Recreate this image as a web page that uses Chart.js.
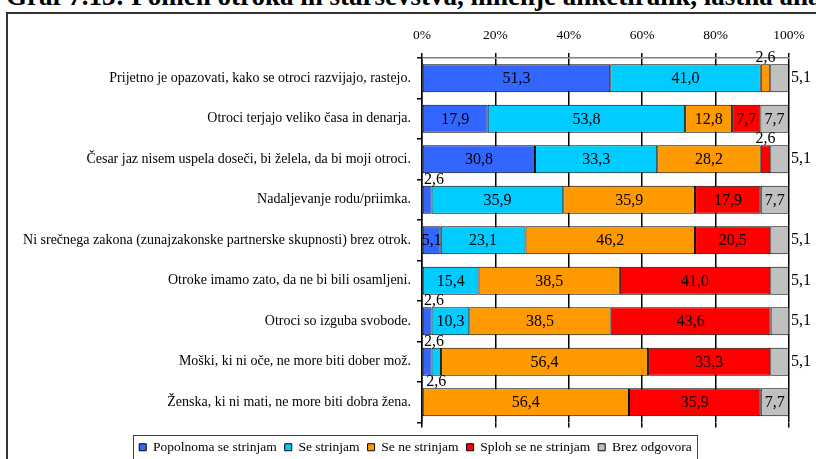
<!DOCTYPE html>
<html>
<head>
<meta charset="utf-8">
<script src="https://cdn.jsdelivr.net/npm/chart.js@4.4.1/dist/chart.umd.min.js"></script>
<style>
  html, body { margin: 0; padding: 0; background: #fff; }
  body { width: 816px; height: 459px; overflow: hidden; position: relative; }
  #title { position: absolute; left: 6px; top: -17px; white-space: nowrap;
           font: bold 27px 'Liberation Serif', 'Times New Roman', serif; color: #000; line-height: 27px; }
  #frame { position: absolute; left: 6px; top: 12px; width: 900px; height: 600px;
           border-left: 2px solid #333; border-top: 2px solid #333; }
  #wrap { position: absolute; left: 0; top: 0; width: 816px; height: 470px; }
</style>
</head>
<body>
<div id="title">Graf 7.13: Pomen otroka in starševstva, mnenje anketirank, lastna analiza</div>
<div id="frame"></div>
<div id="wrap"><canvas id="c" width="816" height="470"></canvas></div>
<script>
// ---- data ----
const categories = [
  "Prijetno je opazovati, kako se otroci razvijajo, rastejo.",
  "Otroci terjajo veliko časa in denarja.",
  "Česar jaz nisem uspela doseči, bi želela, da bi moji otroci.",
  "Nadaljevanje rodu/priimka.",
  "Ni srečnega zakona (zunajzakonske partnerske skupnosti) brez otrok.",
  "Otroke imamo zato, da ne bi bili osamljeni.",
  "Otroci so izguba svobode.",
  "Moški, ki ni oče, ne more biti dober mož.",
  "Ženska, ki ni mati, ne more biti dobra žena."
];
const seriesNames = ["Popolnoma se strinjam", "Se strinjam", "Se ne strinjam", "Sploh se ne strinjam", "Brez odgovora"];
const popolnoma = [51.3, 17.9, 30.8, 2.6, 5.1, 0, 2.6, 2.6, 0];
const seStrinjam = [41.0, 53.8, 33.3, 35.9, 23.1, 15.4, 10.3, 2.6, 0];
const seNeStrinjam = [2.6, 12.8, 28.2, 35.9, 46.2, 38.5, 38.5, 56.4, 56.4];
const splohNe = [0, 7.7, 2.6, 17.9, 20.5, 41.0, 43.6, 33.3, 35.9];
const brezOdgovora = [5.1, 7.7, 5.1, 7.7, 5.1, 5.1, 5.1, 5.1, 7.7];
const xTicks = [0, 20, 40, 60, 80, 100];
const seriesValues = [popolnoma, seStrinjam, seNeStrinjam, splohNe, brezOdgovora];
const seriesColors = ["#3366FF", "#00CCFF", "#FF9900", "#FF0000", "#C0C0C0"];

const SERIF = "'Liberation Serif', 'Times New Roman', serif";
Chart.defaults.font.family = SERIF;
Chart.defaults.color = '#000';

const fmt = v => v.toFixed(1).replace('.', ',');

const valueLabels = {
  id: 'valueLabels',
  afterDatasetsDraw(chart) {
    const ctx = chart.ctx, area = chart.chartArea;
    ctx.save();
    ctx.font = "16px " + SERIF;
    ctx.fillStyle = '#000';
    ctx.textBaseline = 'middle';
    const last = chart.data.datasets.length - 1;
    chart.data.labels.forEach((_, j) => {
      let nextAbove = true;
      chart.data.datasets.forEach((ds, i) => {
        const v = ds.data[j];
        if (v == null || v === 0) return;
        const el = chart.getDatasetMeta(i).data[j];
        const txt = fmt(v);
        const w = ctx.measureText(txt).width;
        const top = el.y - el.height / 2, bottom = el.y + el.height / 2;
        const cx = (el.x + el.base) / 2;
        if (i === last && v < 6) {
          ctx.textAlign = 'left';
          ctx.fillText(txt, area.right + 2, el.y);
        } else if (v < 4) {
          ctx.textAlign = 'center';
          const x = Math.max(cx, area.left + w / 2 + 2);
          if (nextAbove) ctx.fillText(txt, x, top - 6);
          else ctx.fillText(txt, x, bottom + 6);
          nextAbove = !nextAbove;
        } else {
          ctx.textAlign = 'center';
          ctx.fillText(txt, cx, el.y + 1);
        }
      });
    });
    ctx.restore();
  }
};

const legendBorder = {
  id: 'legendBorder',
  afterDraw(chart) {
    const hb = chart.legend && chart.legend.legendHitBoxes;
    if (!hb || !hb.length) return;
    const left = Math.min(...hb.map(h => h.left)) - 6;
    const right = Math.max(...hb.map(h => h.left + h.width)) + 5;
    const top = hb[0].top - 6;
    const ctx = chart.ctx;
    ctx.save();
    ctx.strokeStyle = '#404040';
    ctx.lineWidth = 1;
    ctx.strokeRect(Math.round(left) + 0.5, Math.round(top) + 0.5, Math.round(right - left), 60);
    ctx.restore();
  }
};

new Chart(document.getElementById('c'), {
  type: 'bar',
  data: {
    labels: categories,
    datasets: seriesNames.map((name, i) => ({
      label: name,
      data: seriesValues[i].map(v => v === 0 ? null : v),
      backgroundColor: seriesColors[i],
      borderColor: '#000',
      borderWidth: 1,
      borderSkipped: false,
      barPercentage: 0.69,
      categoryPercentage: 1.0,
      xAxisID: 'x',
      yAxisID: 'y'
    }))
  },
  options: {
    indexAxis: 'y',
    responsive: false,
    animation: false,
    layout: { padding: { left: 15, right: 0, top: 0, bottom: 6 } },
    scales: {
      x: {
        position: 'top',
        stacked: true,
        min: 0, max: 100,
        afterBuildTicks: s => { s.ticks = xTicks.map(v => ({ value: v })); },
        ticks: { callback: v => v + '%', font: { family: SERIF, size: 13.5 }, padding: 9, maxRotation: 0 },
        grid: { display: true, drawOnChartArea: true, drawTicks: true, color: '#000', lineWidth: 1.5, tickLength: 5, tickColor: '#000', tickWidth: 1.5 },
        border: { display: true, color: '#808080', width: 1.5 },
        afterFit: s => { s.height = 58; }
      },
      x2: {
        position: 'bottom',
        min: 0, max: 100,
        afterBuildTicks: s => { s.ticks = xTicks.map(v => ({ value: v })); },
        ticks: { display: false },
        grid: { display: true, drawOnChartArea: false, drawTicks: true, color: '#000', lineWidth: 1.5, tickLength: 5 },
        border: { display: false },
        afterFit: s => { s.height = 10; }
      },
      y: {
        stacked: true,
        ticks: { font: { family: SERIF, size: 14 }, padding: 6 },
        grid: { display: true, drawOnChartArea: false, drawTicks: true, color: '#000', lineWidth: 1.5, tickLength: 5, offset: true },
        border: { display: true, color: '#000', width: 1.5 },
        afterFit: s => { s.width = 407; }
      },
      y2: {
        type: 'category',
        position: 'right',
        ticks: { display: false },
        grid: { display: false },
        border: { display: false },
        afterFit: s => { s.width = 27; }
      }
    },
    plugins: {
      legend: {
        position: 'bottom',
        labels: { boxWidth: 7, boxHeight: 7, padding: 8, font: { family: SERIF, size: 13.5 }, color: '#000',
          generateLabels: chart => chart.data.datasets.map((ds, i) => ({
            text: ds.label, fillStyle: ds.backgroundColor, strokeStyle: '#000', lineWidth: 1,
            hidden: false, datasetIndex: i
          }))
        }
      },
      tooltip: { enabled: false },
      title: { display: false }
    }
  },
  plugins: [valueLabels, legendBorder]
});
</script>
</body>
</html>
